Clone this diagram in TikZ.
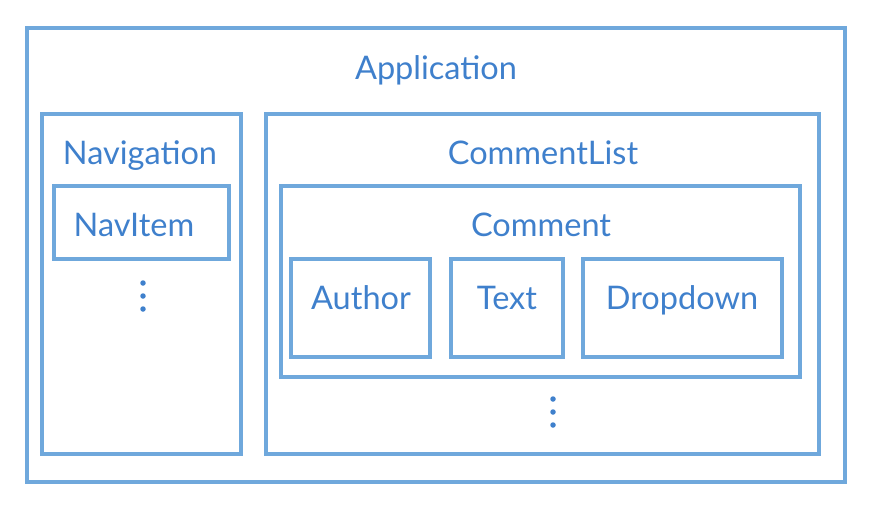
\documentclass[tikz,border=0pt]{standalone}
\usepackage{fontspec}
\setmainfont{Lato}
\definecolor{boxc}{HTML}{6FA8DC}
\definecolor{txtc}{HTML}{3F80CC}
\begin{document}
\begin{tikzpicture}[x=1pt,y=-1pt,
  box/.style={draw=boxc,line width=3.4pt},
  lbl/.style={text=txtc,font=\fontsize{32.5}{38}\selectfont,inner sep=0pt,anchor=base},
  dot/.style={fill=txtc,circle,inner sep=0pt,minimum size=5.5pt}]
\useasboundingbox (0,0) rectangle (871,509);
\draw[box] (27,28) rectangle (845,482);
\node[lbl] (app) at (436,79) {Application};
\draw[box] (42,114) rectangle (241,454);
\node[lbl] (nav) at (140,164) {Navigation};
\draw[box] (54,186) rectangle (229,259);
\node[lbl] (navitem) at (134,236) {NavItem};
\node[dot] (nd1) at (143,283) {};
\node[dot] (nd2) at (143,296) {};
\node[dot] (nd3) at (143,309) {};
\draw[box] (266,114) rectangle (819,454);
\node[lbl] (cl) at (543,164) {CommentList};
\draw[box] (281,186) rectangle (800,377);
\node[lbl] (cm) at (541,236) {Comment};
\draw[box] (291,259) rectangle (430,357);
\node[lbl] (au) at (361,309) {Author};
\draw[box] (451,259) rectangle (563,357);
\node[lbl] (tx) at (507,309) {Text};
\draw[box] (583,259) rectangle (782,357);
\node[lbl] (dd) at (682,309) {Dropdown};
\node[dot] (cd1) at (553,399) {};
\node[dot] (cd2) at (553,412) {};
\node[dot] (cd3) at (553,425) {};
\end{tikzpicture}
\end{document}
